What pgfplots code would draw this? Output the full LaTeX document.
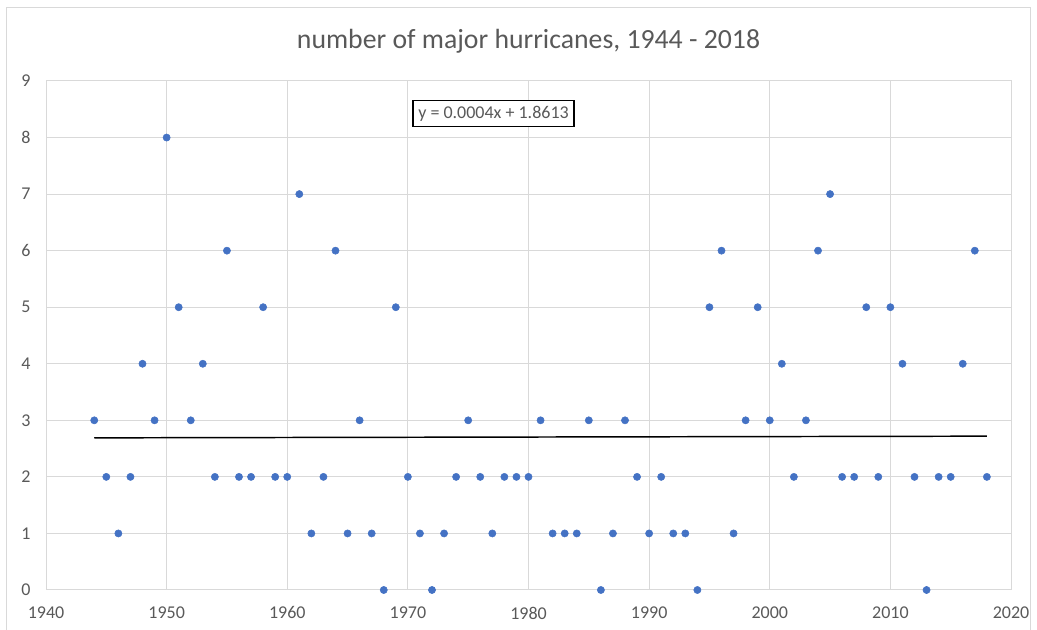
\documentclass[border=0pt]{standalone}
\usepackage{pgfplots}
\pgfplotsset{compat=1.18}
\usepackage{fontspec}
\setmainfont{Carlito}
\definecolor{ptblue}{HTML}{4472C4}
\definecolor{gridgray}{HTML}{D9D9D9}
\definecolor{txtgray}{HTML}{595959}
\begin{document}
\begin{tikzpicture}
\useasboundingbox (-34.5pt,-30pt) rectangle (743.25pt,442.5pt);
\draw[gridgray, line width=0.75pt] (-29.25pt,-31pt) -- (-29.25pt,436.5pt) -- (738pt,436.5pt) -- (738pt,-31pt);
\begin{axis}[
  scale only axis,
  width=723.75pt, height=381.75pt,
  xmin=1940, xmax=2020, ymin=0, ymax=9,
  xtick={1940,1950,...,2020}, ytick={0,1,...,9},
  grid=major,
  grid style={gridgray, line width=0.75pt},
  axis line style={gridgray, line width=0.75pt},
  major tick length=0pt,
  tick label style={font=\fontsize{13.5}{15}\selectfont, text=txtgray},
  /pgf/number format/assume math mode=true,
  /pgf/number format/1000 sep={},
  yticklabel style={xshift=-8pt},
  xticklabel style={yshift=-9pt},
  clip=false,
]
\addplot[only marks, mark=*, mark size=2.7pt, mark options={fill=ptblue, draw=ptblue}] coordinates {
(1944,3)(1945,2)(1946,1)(1947,2)(1948,4)(1949,3)(1950,8)(1951,5)(1952,3)(1953,4)
(1954,2)(1955,6)(1956,2)(1957,2)(1958,5)(1959,2)(1960,2)(1961,7)(1962,1)(1963,2)
(1964,6)(1965,1)(1966,3)(1967,1)(1968,0)(1969,5)(1970,2)(1971,1)(1972,0)(1973,1)
(1974,2)(1975,3)(1976,2)(1977,1)(1978,2)(1979,2)(1980,2)(1981,3)(1982,1)(1983,1)
(1984,1)(1985,3)(1986,0)(1987,1)(1988,3)(1989,2)(1990,1)(1991,2)(1992,1)(1993,1)
(1994,0)(1995,5)(1996,6)(1997,1)(1998,3)(1999,5)(2000,3)(2001,4)(2002,2)(2003,3)
(2004,6)(2005,7)(2006,2)(2007,2)(2008,5)(2009,2)(2010,5)(2011,4)(2012,2)(2013,0)
(2014,2)(2015,2)(2016,4)(2017,6)(2018,2)
};
\addplot[black, line width=1.1pt] coordinates {(1944,2.69)(2018,2.72)};
\node[draw=black, line width=0.9pt, fill=white, font=\fontsize{13.5}{15}\selectfont, text=txtgray, inner xsep=4pt, inner ysep=4pt] at (axis cs:1977.1,8.42) {y = 0.0004x + 1.8613};
\node[font=\fontsize{20.8}{23}\selectfont, text=txtgray] at (rel axis cs:0.5,1.0) [yshift=30pt] {number of major hurricanes, 1944 - 2018};
\end{axis}
\end{tikzpicture}
\end{document}
